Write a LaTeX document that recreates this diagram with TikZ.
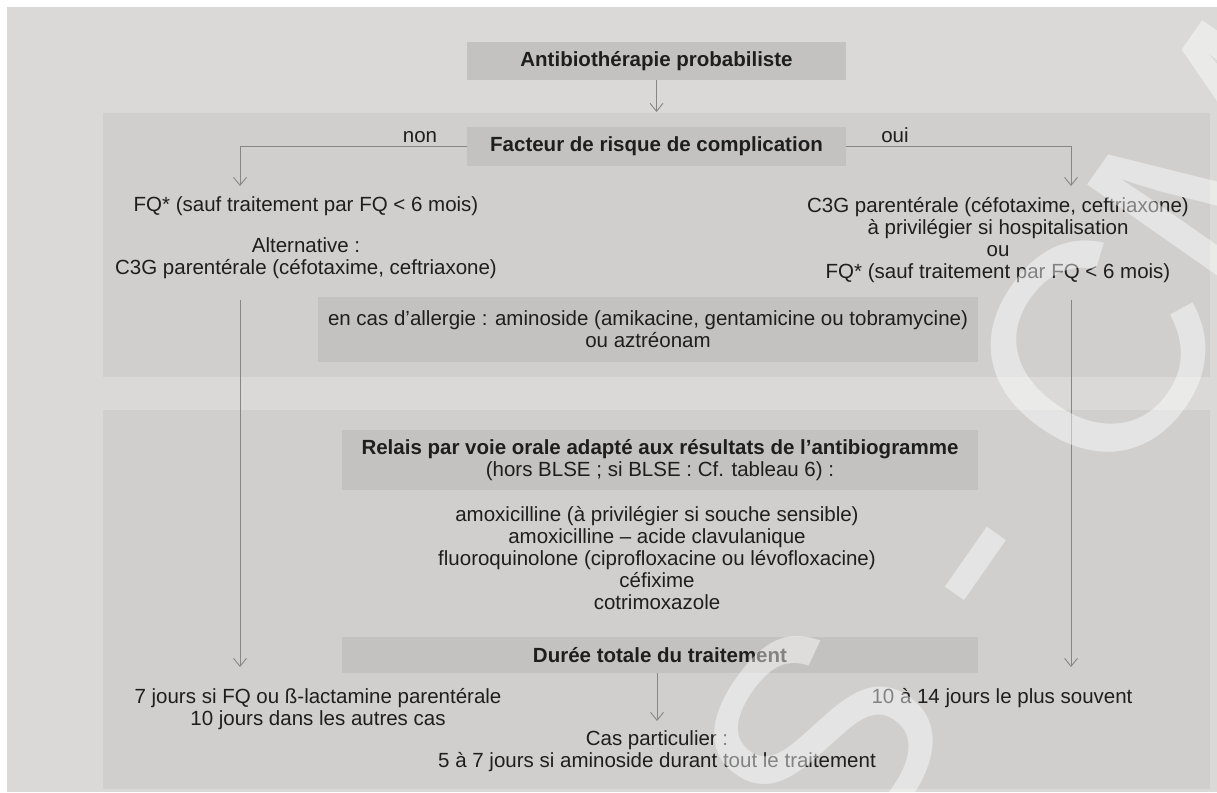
\documentclass[tikz,border=0pt]{standalone}
\usepackage{fontspec}
\setmainfont{Liberation Sans}
\usetikzlibrary{arrows.meta}
\definecolor{pagebg}{HTML}{DAD9D8}
\definecolor{panelbg}{HTML}{D0CFCE}
\definecolor{hdrbg}{HTML}{C3C2C1}
\definecolor{inkc}{HTML}{1E1E1E}
\definecolor{arrc}{HTML}{868686}
\begin{document}
\begin{tikzpicture}[x=1pt,y=-1pt,
  every node/.style={inner sep=0pt, outer sep=0pt, text=inkc,
    font=\fontsize{20.5}{22}\selectfont},
  txt/.style={align=center},
  hdr/.style={fill=hdrbg, align=center, font=\fontsize{20.5}{22}\selectfont\bfseries},
  shade/.style={fill=hdrbg, align=center},
  link/.style={draw=arrc, line width=0.9pt},
  arr/.style={link, -{Straight Barb[length=8pt,width=13pt,line width=0.9pt]}},
  stamp/.style={text=white, text opacity=0.45, rotate=55,
    font=\fontsize{300}{300}\selectfont, text height=215pt, text depth=0pt},
]
% page and panels
\useasboundingbox (0,0) rectangle (1217,792);
\fill[white] (0,0) rectangle (1217,792);
\fill[pagebg] (7,7) rectangle (1217,792);
\fill[panelbg] (103,113) rectangle (1210,377);
\fill[panelbg] (103,410) rectangle (1210,789);

% first stage: empirical treatment
\node[hdr, minimum width=379pt, minimum height=38pt] (prob) at (656.5,61) {Antibiothérapie probabiliste};
\coordinate (ptop) at (656.5,112);
\draw[arr] (prob) -- (ptop);
\node[hdr, minimum width=379pt, minimum height=39pt] (risk) at (656.5,146.5) {Facteur de risque de complication};
\coordinate (ltip) at (240,186);
\coordinate (rtip) at (1071,186);
\draw[arr] (risk.west) -| (ltip);
\draw[arr] (risk.east) -| (rtip);
\node[anchor=base] (non) at (420,142) {non};
\node[anchor=base] (oui) at (895,142) {oui};

\node[txt] (fql) at (306,206) {FQ* (sauf traitement par FQ < 6 mois)};
\node[txt] (alt) at (306,258) {Alternative :\\C3G parentérale (céfotaxime, ceftriaxone)};
\node[txt] (c3g) at (998,240) {C3G parentérale (céfotaxime, ceftriaxone)\\à privilégier si hospitalisation\\ou\\FQ* (sauf traitement par FQ < 6 mois)};
\node[shade, minimum width=660pt, minimum height=65pt] (allergy) at (648,329.5)
  {en cas d'allergie : aminoside (amikacine, gentamicine ou tobramycine)\\ou aztréonam};

% second stage: oral switch
\node[shade, minimum width=636pt, minimum height=60pt] (relais) at (660,460)
  {\bfseries Relais par voie orale adapté aux résultats de l’antibiogramme\\(hors BLSE ; si BLSE : Cf. tableau 6) :};
\node[txt] (list) at (657,558) {amoxicilline (à privilégier si souche sensible)\\amoxicilline – acide clavulanique\\fluoroquinolone (ciprofloxacine ou lévofloxacine)\\céfixime\\cotrimoxazole};
\node[hdr, minimum width=636pt, minimum height=36pt] (duree) at (660,655) {Durée totale du traitement};

% duration outcomes
\coordinate (lstart) at (240,300);
\coordinate (lend) at (240,667);
\coordinate (rstart) at (1071,300);
\coordinate (rend) at (1071,667);
\draw[arr] (lstart) -- (lend);
\draw[arr] (rstart) -- (rend);
\node[txt] (dl) at (318,709) {7 jours si FQ ou ß-lactamine parentérale\\10 jours dans les autres cas};
\node[txt] (dr) at (1002,698) {10 à 14 jours le plus souvent};
\node[txt] (cas) at (657,751) {Cas particulier :\\5 à 7 jours si aminoside durant tout le traitement};
\coordinate (ctip) at (657,721);
\draw[arr] (duree.south -| ctip) -- (ctip);

% publisher stamp across the page
\begin{scope}
\clip (7,7) rectangle (1217,792);
\node[stamp] (wmS) at (819,739) {S};
\node[stamp] (wmD) at (953,548) {-};
\node[stamp] (wmC) at (1092,350) {C};
\node[stamp] (wmM) at (1226,159) {M};
\end{scope}
\end{tikzpicture}
\end{document}
